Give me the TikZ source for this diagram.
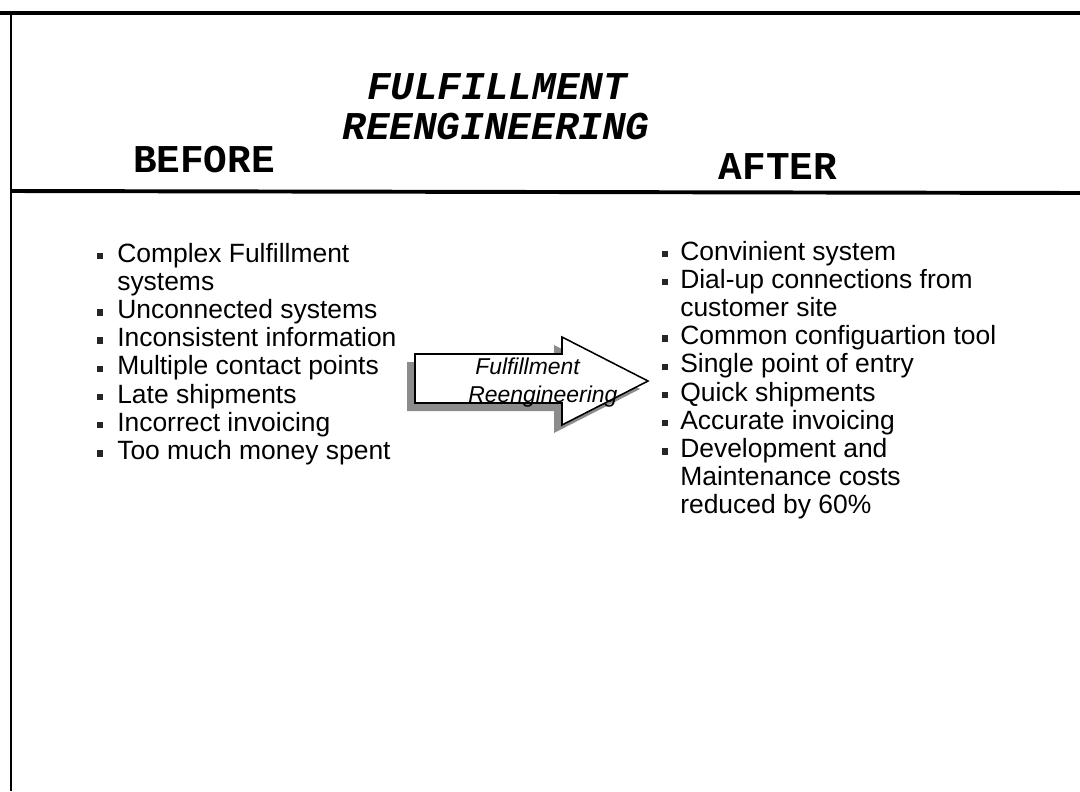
\documentclass[tikz,border=0pt]{standalone}
\usepackage{fontspec}
\setmainfont{Liberation Sans}
\newfontfamily\slabfont{Liberation Mono}
\usetikzlibrary{positioning}

\begin{document}
\begin{tikzpicture}[
    x=0.025cm, y=-0.025cm,
    rule/.style  = {draw=black, line width=2.2pt},
    hdr/.style   = {font=\slabfont\fontsize{28}{30}\selectfont\bfseries, inner sep=0pt},
    itm/.style   = {font=\fontsize{18.8}{20}\selectfont, anchor=base west, inner sep=0pt},
    sq/.style    = {rectangle, fill=black!85, minimum size=4.6pt, inner sep=0pt},
    arrtxt/.style= {font=\fontsize{16.3}{17}\selectfont\itshape, anchor=base west, inner sep=0pt},
]
\useasboundingbox (0,0) rectangle (1080,791);

%======== frame and heading ========
\coordinate (tl) at (0,13);
\coordinate (tr) at (1080,13);
\coordinate (vl) at (11,13);
\coordinate (vb) at (11,791);
\coordinate (ml) at (11,191);
\coordinate (mr) at (1080,193);
\draw[rule] (tl) -- (tr);
\draw[rule, line width=1.8pt] (vl) -- (vb);
\draw[rule, line width=2.8pt] (ml) -- (mr);

\node[hdr] (ttl1) at (497,87) {\itshape FULFILLMENT};
\node[hdr] (ttl2) at (496,127) {\itshape REENGINEERING};
\node[hdr] (before) at (204,160) {BEFORE};
\node[hdr] (after) at (778,167) {AFTER};

%======== left list ========
\foreach \n/\t in {0/Complex Fulfillment, 1/systems, 2/Unconnected systems,
    3/Inconsistent information, 4/Multiple contact points, 5/Late shipments,
    6/Incorrect invoicing, 7/Too much money spent}
  \node[itm] (lt\n) at (117,{262+28.2*\n}) {\t};
\foreach \n in {0,2,3,4,5,6,7}
  \node[sq] (lb\n) at (100,{256+28.2*\n}) {};

%======== right list ========
\foreach \n/\t in {0/Convinient system, 1/Dial-up connections from, 2/customer site,
    3/Common configuartion tool, 4/Single point of entry, 5/Quick shipments,
    6/Accurate invoicing, 7/Development and, 8/Maintenance costs, 9/reduced by 60\%}
  \node[itm] (rt\n) at (680,{260+28.2*\n}) {\t};
\foreach \n in {0,1,3,4,5,6,7}
  \node[sq] (rb\n) at (665,{254+28.2*\n}) {};

%======== block arrow ========
% grey shadow, shifted down-left
\fill[black!45, shift={(-8,8)}]
  (415,354) -- (562,354) -- (562,337) -- (648,381) -- (562,425) -- (562,403) -- (415,403) -- cycle;
\draw[black, line width=1.1pt, fill=white]
  (415,354) -- (562,354) -- (562,337) -- (648,381) -- (562,425) -- (562,403) -- (415,403) -- cycle;
\node[arrtxt] (a1) at (475,374) {Fulfillment};
\node[arrtxt] (a2) at (468,402) {Reengineering};

\end{tikzpicture}
\end{document}
